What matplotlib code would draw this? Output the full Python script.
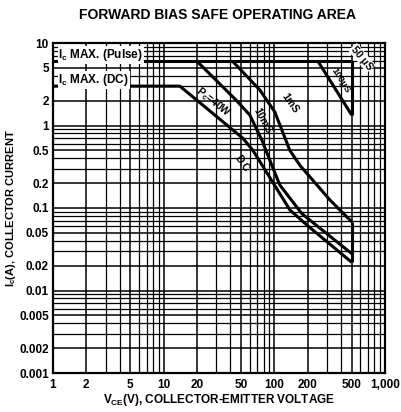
"""Forward bias safe operating area, redrawn from the datasheet scan."""

import matplotlib
matplotlib.use("Agg")
import matplotlib.pyplot as plt
import numpy as np

plt.rcParams["font.family"] = ["Liberation Sans", "DejaVu Sans"]
plt.rcParams["font.weight"] = "bold"
plt.rcParams["axes.labelweight"] = "bold"
plt.rcParams["mathtext.fontset"] = "custom"
plt.rcParams["mathtext.rm"] = "Liberation Sans:bold"
plt.rcParams["mathtext.it"] = "Liberation Sans:bold"
plt.rcParams["mathtext.bf"] = "Liberation Sans:bold"

# boundaries: collector-emitter volts, collector amps
PULSE_V = [1, 500]
PULSE_I = [6.0, 6.0]
DC_V = [1, 14, 52, 64, 86, 138, 197, 500]
DC_I = [3.0, 3.0, 0.70, 0.50, 0.265, 0.095, 0.062, 0.022]
MS10_V = [20, 45, 60, 77, 91, 112, 178, 258, 500]
MS10_I = [6.0, 2.04, 1.34, 0.67, 0.38, 0.19, 0.085, 0.057, 0.028]
MS1_V = [42, 74, 101, 138, 170, 318, 500]
MS1_I = [6.0, 2.69, 1.46, 0.50, 0.33, 0.125, 0.068]
US100_V = [248, 500]
US100_I = [6.0, 1.34]
EDGE_V = [500, 500]            # the VCEO wall, drawn in two pieces
EDGE_TOP_I = [6.0, 1.34]
EDGE_LOW_I = [0.068, 0.022]

X_TICKS = [1, 2, 5, 10, 20, 50, 100, 200, 500, 1000]
X_LABELS = ["1", "2", "5", "10", "20", "50", "100", "200", "500", "1,000"]
Y_TICKS = [10, 5, 2, 1, 0.5, 0.2, 0.1, 0.05, 0.02, 0.01, 0.005, 0.002, 0.001]
Y_LABELS = ["10", "5", "2", "1", "0.5", "0.2", "0.1", "0.05", "0.02", "0.01",
            "0.005", "0.002", "0.001"]

# curve labels: text, (V, I) anchor, rotation, size
CURVE_LABELS = [
    (r"P$_c$=40W", (27.9, 1.92), -38, 7.5),
    ("D.C", (51, 0.35), -55, 7.5),
    ("10mS", (78, 1.15), -62, 7.5),
    ("1mS", (138, 1.88), -55, 7.5),
    ("100μS", (396, 3.5), -58, 6.8),
]


def main():
    fig = plt.figure(figsize=(4.01, 4.12), dpi=100)
    ax = fig.add_axes([53 / 401, 1 - 373 / 412, 332 / 401, 330 / 412])
    ax.set_xscale("log")
    ax.set_yscale("log")
    ax.set_xlim(1, 1000)
    ax.set_ylim(0.001, 10)

    # log paper: a line at every 1..9 step of each decade
    xs = [m * 10 ** d for d in range(0, 3) for m in range(1, 10)] + [1000]
    ys = [m * 10 ** d for d in range(-3, 1) for m in range(1, 10)] + [10]
    ax.set_xticks(xs, minor=True)
    ax.set_yticks(ys, minor=True)
    ax.grid(which="minor", color="black", lw=0.9)
    ax.set_xticks(X_TICKS, X_LABELS)
    ax.set_yticks(Y_TICKS, Y_LABELS)
    ax.grid(which="major", color="black", lw=1.1)
    ax.tick_params(which="both", length=0, labelsize=8.5)
    ax.tick_params(axis="x", pad=4)
    ax.tick_params(axis="y", pad=3)
    for s in ax.spines.values():
        s.set_linewidth(1.6)

    kw = dict(color="black", lw=2.2, solid_capstyle="butt", zorder=3)
    ax.plot(PULSE_V, PULSE_I, **kw)
    ax.plot(DC_V, DC_I, **kw)
    ax.plot(MS10_V, MS10_I, **kw)
    ax.plot(MS1_V, MS1_I, **kw)
    ax.plot(US100_V, US100_I, **kw)
    ax.plot(EDGE_V, EDGE_TOP_I, **kw)
    ax.plot(EDGE_V, EDGE_LOW_I, **kw)

    box = dict(boxstyle="square,pad=0.08", fc="white", ec="none")
    ax.text(1.12, 7.1, r"I$_c$ MAX. (Pulse)", fontsize=8.5, ha="left", va="center",
            bbox=box, zorder=4)
    ax.text(1.12, 3.6, r"I$_c$ MAX. (DC)", fontsize=8.5, ha="left", va="center",
            bbox=box, zorder=4)
    for text, (v, i), rot, size in CURVE_LABELS:
        ax.text(v, i, text, fontsize=size, rotation=rot, ha="center", va="center",
                rotation_mode="anchor", zorder=4)
    ax.text(618, 6.6, "50 μS", fontsize=7.5, rotation=-50, ha="center", va="center",
            rotation_mode="anchor", bbox=box, zorder=4, clip_on=False)

    fig.text(217 / 401, 1 - 15 / 412, "FORWARD BIAS SAFE OPERATING AREA",
             fontsize=10, ha="center", va="center")
    ax.set_ylabel(r"I$_c$(A), COLLECTOR CURRENT", fontsize=8)
    ax.set_xlabel(r"V$_{CE}$(V), COLLECTOR-EMITTER VOLTAGE", fontsize=8.5)
    ax.yaxis.set_label_coords(-0.105, 0.5)
    ax.xaxis.set_label_coords(0.5, -0.058)

    fig.savefig("out.png", dpi=100)
    plt.close(fig)


if __name__ == "__main__":
    main()
